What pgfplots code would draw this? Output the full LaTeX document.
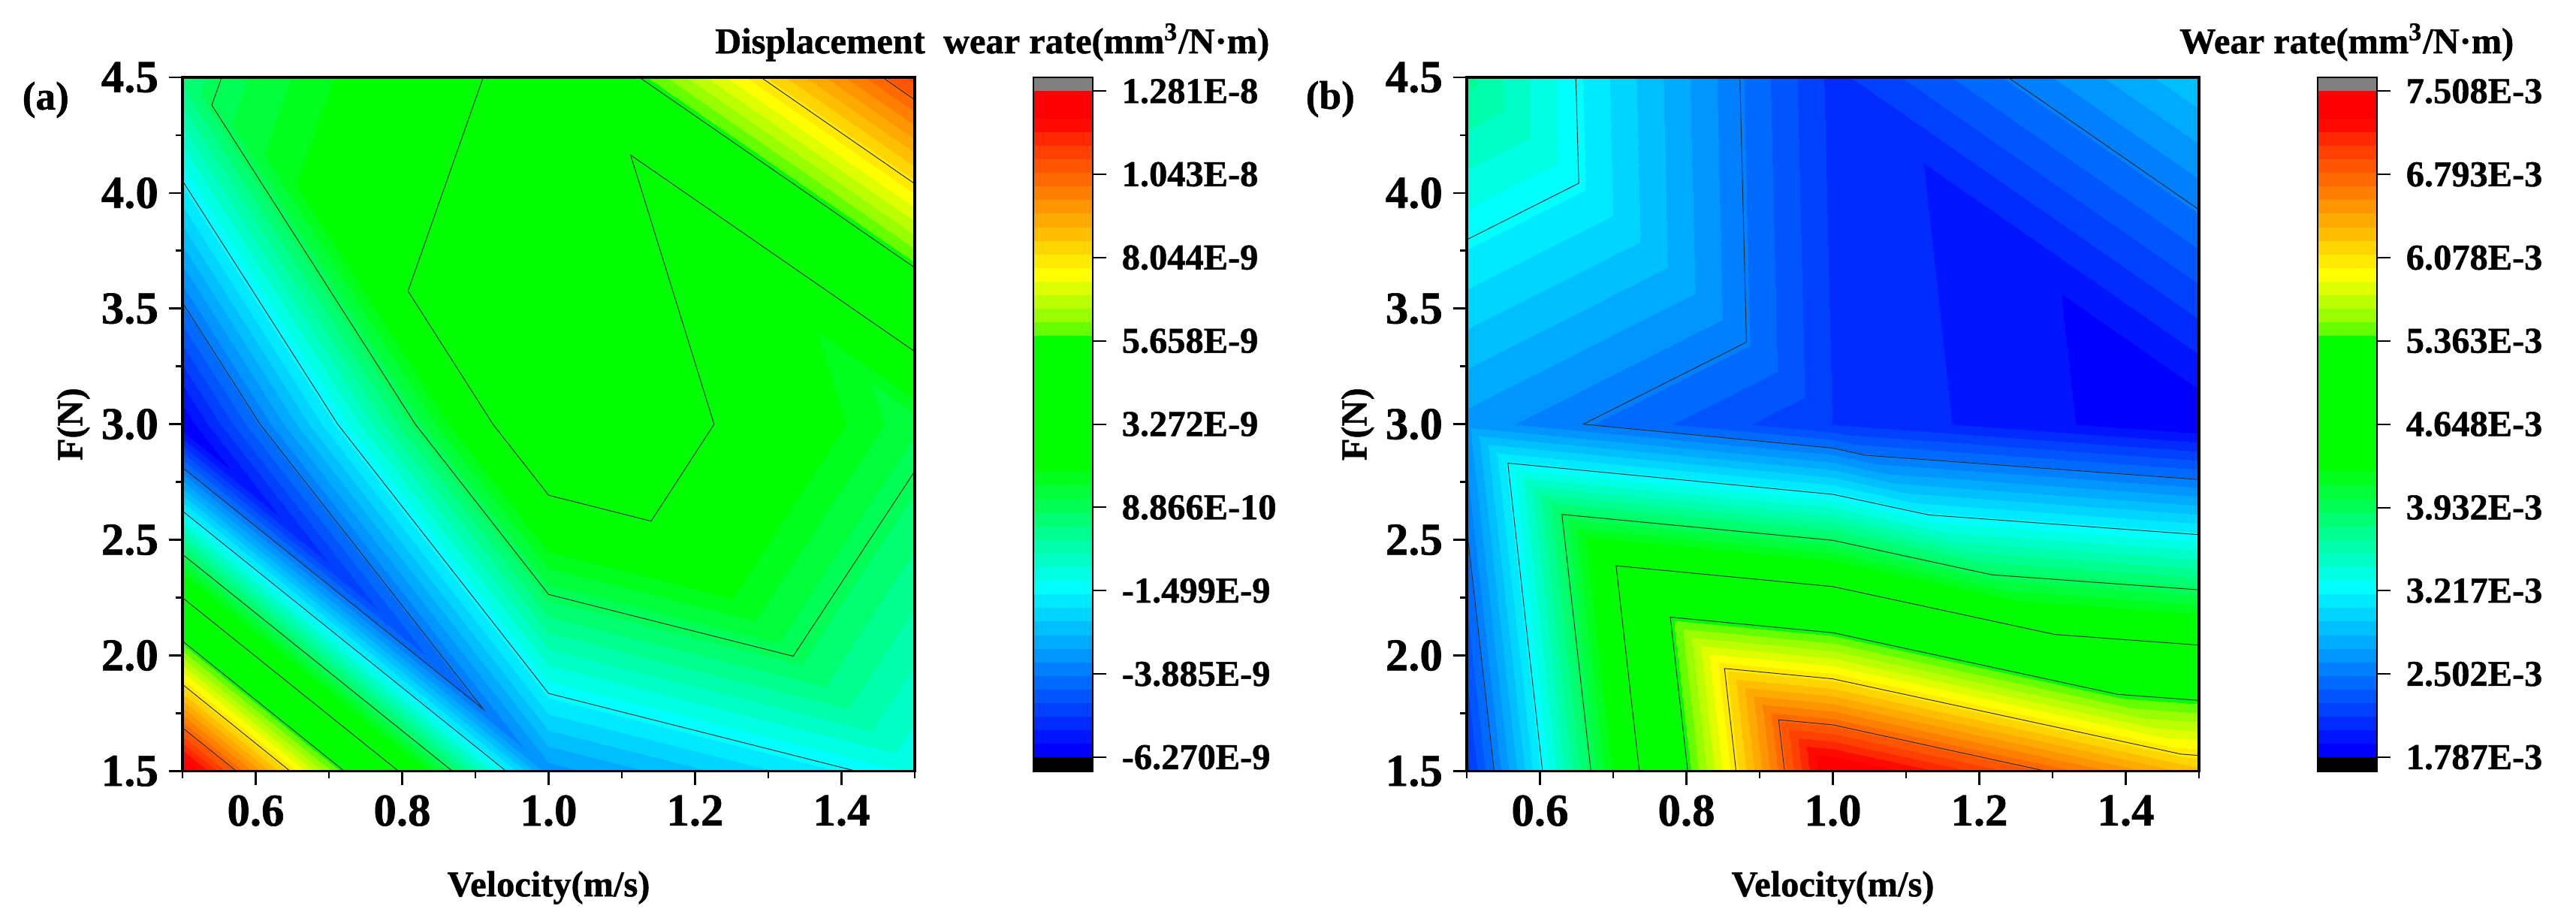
\documentclass[border=0pt]{standalone}
\usepackage{fontspec}
\setmainfont[BoldFeatures={FakeBold=1}]{Liberation Serif}
\usepackage{pgfplots}
\usepackage{pgfplotstable}
\pgfplotsset{compat=1.18}

% 48 colour bands, last entry repeated to close the top interval
\pgfplotsset{colormap={wear}{
  rgb255=(0,0,255) rgb255=(0,21,255) rgb255=(0,43,255) rgb255=(0,64,255)
  rgb255=(0,85,255) rgb255=(0,106,255) rgb255=(0,128,255) rgb255=(0,149,255)
  rgb255=(0,170,255) rgb255=(0,191,255) rgb255=(0,213,255) rgb255=(0,234,255)
  rgb255=(0,255,255) rgb255=(0,255,227) rgb255=(0,255,198) rgb255=(0,255,170)
  rgb255=(0,255,142) rgb255=(0,255,113) rgb255=(0,255,85) rgb255=(0,255,57)
  rgb255=(0,255,28) rgb255=(0,255,0) rgb255=(0,255,0) rgb255=(0,255,0)
  rgb255=(0,255,0) rgb255=(0,255,0) rgb255=(0,255,0) rgb255=(0,255,0)
  rgb255=(0,255,0) rgb255=(0,255,0) rgb255=(0,255,0) rgb255=(102,255,0)
  rgb255=(153,255,0) rgb255=(187,255,0) rgb255=(221,255,0) rgb255=(255,255,0)
  rgb255=(255,234,0) rgb255=(255,213,0) rgb255=(255,190,0) rgb255=(255,170,0)
  rgb255=(255,149,0) rgb255=(255,128,0) rgb255=(255,105,0) rgb255=(255,85,0)
  rgb255=(255,64,0) rgb255=(255,40,0) rgb255=(255,10,0) rgb255=(255,0,0)
  rgb255=(255,0,0)
}}

% measured values as triangles, unit 1E-9 in (a), 1E-3 in (b)
\pgfplotstableread{
v   f   z
0.5 1.5 12.81
1.0 1.5 -3.368
0.5 3.0 -6.27
1.0 1.5 -3.368
1.0 3.0 4.979
0.5 3.0 -6.27
1.0 1.5 -3.368
1.5 1.5 -1.142
1.0 3.0 4.979
1.5 1.5 -1.142
1.5 3.0 1.203
1.0 3.0 4.979
0.5 3.0 -6.27
1.0 3.0 4.979
0.5 4.5 0.527
1.0 3.0 4.979
1.0 4.5 3.866
0.5 4.5 0.527
1.0 3.0 4.979
1.5 3.0 1.203
1.0 4.5 3.866
1.5 3.0 1.203
1.5 4.5 11.06
1.0 4.5 3.866
}\dataA
\pgfplotstableread{
v   f   z
0.5 1.5 2.097
1.0 1.5 7.508
0.5 3.0 2.675
1.0 1.5 7.508
1.0 3.0 2.133
0.5 3.0 2.675
1.0 1.5 7.508
1.5 1.5 6.280
1.0 3.0 2.133
1.5 1.5 6.280
1.5 3.0 1.787
1.0 3.0 2.133
0.5 3.0 2.675
1.0 3.0 2.133
0.5 4.5 3.694
1.0 3.0 2.133
1.0 4.5 2.097
0.5 4.5 3.694
1.0 3.0 2.133
1.5 3.0 1.787
1.0 4.5 2.097
1.5 3.0 1.787
1.5 4.5 2.943
1.0 4.5 2.097
}\dataB

\pgfplotsset{
  mainaxis/.style={
    scale only axis, width=243.75pt, height=230.875pt, anchor=south west,
    xmin=0.5, xmax=1.5, ymin=1.5, ymax=4.5,
    xtick={0.6,0.8,1.0,1.2,1.4}, minor xtick={0.5,0.7,0.9,1.1,1.3,1.5},
    ytick={1.5,2.0,2.5,3.0,3.5,4.0,4.5}, minor ytick={1.75,2.25,2.75,3.25,3.75,4.25},
    tick align=outside, tick pos=left, axis on top,
    axis line style={line width=0.85pt},
    major tick length=4.5pt, minor tick length=2.3pt,
    every tick/.style={black, line width=0.7pt},
    tick label style={font=\fontsize{15.2}{15.2}\selectfont\bfseries},
    /pgf/number format/.cd, fixed, fixed zerofill, precision=1, assume math mode=true, /pgfplots/.cd,
    xlabel={Velocity(m/s)}, ylabel={F(N)},
    label style={font=\fontsize{12.1}{12.1}\selectfont\bfseries},
    xlabel style={at={(0.5,-0.168)}, anchor=center},
    ylabel style={at={(-0.149,0.5)}, anchor=center, rotate=0},
    colormap name=wear, colormap access=piecewise constant,
  },
  baraxis/.style={
    scale only axis, width=19.75pt, height=230.875pt, anchor=south west,
    xmin=0, xmax=1, xtick=\empty, axis on top,
    ytick pos=right, tick align=outside, yticklabel pos=right,
    axis line style={line width=0.7pt},
    major tick length=4.5pt, every tick/.style={black, line width=0.5pt},
    yticklabel style={font=\fontsize{12.1}{12.1}\selectfont\bfseries, anchor=west, inner sep=0pt, xshift=5pt},
    colormap name=wear, colormap access=piecewise constant,
  },
  contourline/.style={black!85, line width=0.23pt, no markers},
  trimesh/.style={patch, shader=interp},
}

\begin{document}
\begin{tikzpicture}
\path[use as bounding box] (0,0) rectangle (857.5pt,306.25pt);

% ---- panel (a)
\begin{axis}[mainaxis, at={(60.75pt,49.625pt)}, point meta min=-6.27, point meta max=12.81]
  \addplot[trimesh] table[x=v, y=f, point meta=\thisrow{z}] {\dataA};
  \addplot[contourline] coordinates {(0.5,2.8125) (0.911,1.767) (0.606,3) (0.5,3.526)};
  \addplot[contourline] coordinates {(0.942,1.5) (0.5,2.625)};
  \addplot[contourline] coordinates {(1.42,1.5) (1,1.836) (0.712,3) (0.5,4.053)};
  \addplot[contourline] coordinates {(0.8686,1.5) (0.5,2.4375)};
  \addplot[contourline] coordinates {(1.5,2.797) (1.334,1.997) (1,2.264) (0.818,3) (0.54,4.38) (0.5536,4.5)};
  \addplot[contourline] coordinates {(0.795,1.5) (0.5,2.25)};
  \addplot[contourline] coordinates {(0.9107,4.5) (0.808,3.576) (0.924,3) (1,2.693) (1.14,2.581) (1.226,3) (1.112,4.164) (1.5,3.3145)};
  \addplot[contourline] coordinates {(0.721,1.5) (0.5,2.0625)};
  \addplot[contourline] coordinates {(1.124,4.5) (1.5,3.677)};
  \addplot[contourline] coordinates {(0.647,1.5) (0.5,1.875)};
  \addplot[contourline] coordinates {(1.29,4.5) (1.5,4.04)};
  \addplot[contourline] coordinates {(0.5737,1.5) (0.5,1.6875)};
  \addplot[contourline] coordinates {(1.456,4.5) (1.5,4.403)};
\end{axis}

\begin{axis}[baraxis, at={(344pt,49.625pt)}, ymin=-6.6675, ymax=13.2075,
    point meta min=-6.27, point meta max=12.81,
    ytick={-6.27,-3.885,-1.499,0.8866,3.272,5.658,8.044,10.43,12.81},
    yticklabels={-6.270E-9,-3.885E-9,-1.499E-9,8.866E-10,3.272E-9,5.658E-9,8.044E-9,1.043E-8,1.281E-8}]
  \addplot[patch, shader=interp, point meta=y] coordinates {(0,-6.27) (1,-6.27) (0,12.81) (1,-6.27) (1,12.81) (0,12.81)};
  \addplot[draw=none, fill=black] coordinates {(0,-6.6675) (1,-6.6675) (1,-6.27) (0,-6.27)} -- cycle;
  \addplot[draw=none, fill={rgb,255:red,128;green,128;blue,128}] coordinates {(0,12.81) (1,12.81) (1,13.2075) (0,13.2075)} -- cycle;
\end{axis}

% ---- panel (b)
\begin{axis}[mainaxis, at={(488.25pt,49.625pt)}, point meta min=1.787, point meta max=7.508]
  \addplot[trimesh] table[x=v, y=f, point meta=\thisrow{z}] {\dataB};
  \addplot[contourline] coordinates {(0.5374,1.5) (0.5,2.5515)};
  \addplot[contourline] coordinates {(0.873,4.5) (0.882,3.355) (0.659,3) (1,2.897) (1.0445,2.866) (1.5,2.761)};
  \addplot[contourline] coordinates {(1.239,4.5) (1.5,3.928)};
  \addplot[contourline] coordinates {(0.5,3.798) (0.653,4.042) (0.649,4.5)};
  \addplot[contourline] coordinates {(0.6035,1.5) (0.5561,2.832) (1,2.697) (1.131,2.608) (1.5,2.5225)};
  \addplot[contourline] coordinates {(0.6696,1.5) (0.63,2.61) (1,2.498) (1.217,2.349) (1.5,2.284)};
  \addplot[contourline] coordinates {(0.7357,1.5) (0.704,2.388) (1,2.298) (1.303,2.091) (1.5,2.045)};
  \addplot[contourline] coordinates {(0.8018,1.5) (0.778,2.166) (1,2.0985) (1.389,1.832) (1.5,1.806)};
  \addplot[contourline] coordinates {(0.8678,1.5) (0.852,1.944) (1,1.899) (1.4756,1.5735) (1.5,1.5676)};
  \addplot[contourline] coordinates {(0.934,1.5) (0.926,1.722) (1,1.7) (1.291,1.5)};
\end{axis}

\begin{axis}[baraxis, at={(771.5pt,49.625pt)}, ymin=1.6678, ymax=7.6272,
    point meta min=1.787, point meta max=7.508,
    ytick={1.787,2.502,3.217,3.932,4.648,5.363,6.078,6.793,7.508},
    yticklabels={1.787E-3,2.502E-3,3.217E-3,3.932E-3,4.648E-3,5.363E-3,6.078E-3,6.793E-3,7.508E-3}]
  \addplot[patch, shader=interp, point meta=y] coordinates {(0,1.787) (1,1.787) (0,7.508) (1,1.787) (1,7.508) (0,7.508)};
  \addplot[draw=none, fill=black] coordinates {(0,1.6678) (1,1.6678) (1,1.787) (0,1.787)} -- cycle;
  \addplot[draw=none, fill={rgb,255:red,128;green,128;blue,128}] coordinates {(0,7.508) (1,7.508) (1,7.6272) (0,7.6272)} -- cycle;
\end{axis}

% ---- titles and panel letters
\node[anchor=base east, inner sep=0pt, font=\fontsize{12.1}{12.1}\selectfont\bfseries] at (422.75pt,288.5pt) {Displacement\hspace{0.25em} wear rate(mm\textsuperscript{3}/N·m)};
\node[anchor=base east, inner sep=0pt, font=\fontsize{12.1}{12.1}\selectfont\bfseries] at (837pt,288.5pt) {Wear rate(mm\textsuperscript{3}/N·m)};
\node[anchor=west, inner sep=0pt, font=\fontsize{13.3}{13.3}\selectfont\bfseries] at (7.25pt,273pt) {(a)};
\node[anchor=west, inner sep=0pt, font=\fontsize{13.3}{13.3}\selectfont\bfseries] at (434.5pt,273.25pt) {(b)};
\end{tikzpicture}
\end{document}
